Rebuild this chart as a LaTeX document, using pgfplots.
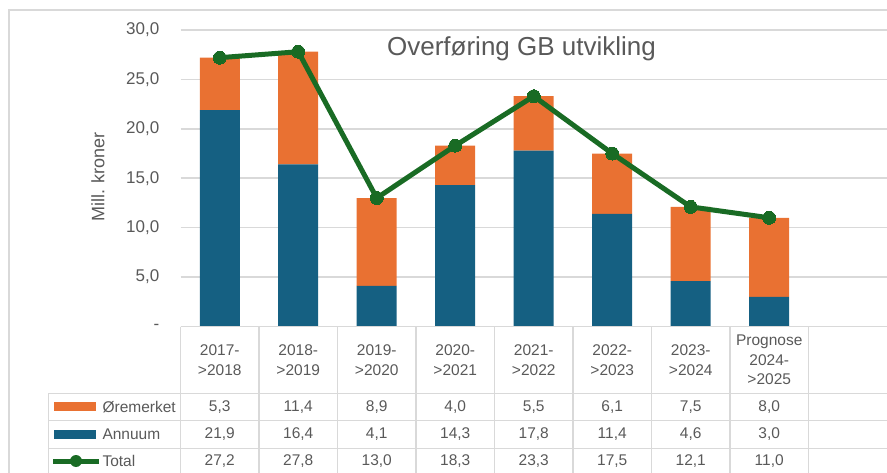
\documentclass[border=0pt]{standalone}
\usepackage{fontspec}
\setmainfont{Liberation Sans}
\usepackage{pgfplots}
\usepackage{pgfplotstable}
\pgfplotsset{compat=1.18}
\definecolor{cOrange}{HTML}{E97132}
\definecolor{cBlue}{HTML}{156082}
\definecolor{cGreen}{HTML}{196B24}
\definecolor{cGrid}{HTML}{D9D9D9}
\definecolor{cText}{HTML}{595959}

\pgfplotstableread{
x ore ann tot
0 5.3 21.9 27.2
1 11.4 16.4 27.8
2 8.9 4.1 13.0
3 4.0 14.3 18.3
4 5.5 17.8 23.3
5 6.1 11.4 17.5
6 7.5 4.6 12.1
7 8.0 3.0 11.0
}\data

\pgfplotsset{myaxis/.style={scale only axis, width=706.5pt, height=296.5pt,
  at={(180.5pt,145.5pt)}, anchor=south west, xmin=-0.5, xmax=8.5, ymin=0, ymax=30,
  clip=false}}

\begin{document}
\begin{tikzpicture}[x=1pt,y=1pt]
\useasboundingbox (0,0) rectangle (887,472);
\clip (0,0) rectangle (887,472);
\draw[cGrid, line width=1.5pt] (9,-5) -- (9,462) -- (895,462);

\begin{axis}[myaxis, ybar stacked, bar width=40pt,
  axis line style={draw=none}, major tick length=0pt,
  xtick=\empty, ytick={0,5,10,15,20,25,30},
  yticklabels={{-\hspace{7pt}},{5,0},{10,0},{15,0},{20,0},{25,0},{30,0}},
  yticklabel style={font=\fontsize{17}{20}\selectfont, text=cText, anchor=east, inner sep=0pt, xshift=-21pt},
  ymajorgrids, grid style={cGrid, line width=1.5pt}]
\addplot[fill=cBlue, draw=none] table[x=x,y=ann]{\data};
\addplot[fill=cOrange, draw=none] table[x=x,y=ore]{\data};
\end{axis}

\begin{axis}[myaxis, hide axis]
\addplot[cGreen, line width=5pt, mark=*, mark size=6.5pt, mark options={fill=cGreen, draw=cGreen, line width=0pt}] table[x=x,y=tot]{\data};
\end{axis}

% title and y label
\node[text=cText, font=\fontsize{26}{30}\selectfont] at (521.5,423) {Overføring GB utvikling};
\node[text=cText, font=\fontsize{18}{21}\selectfont, rotate=90] at (98,295) {Mill. kroner};

% data table grid
\begin{scope}[cGrid, line width=1.5pt]
\draw (180.5,145.5) -- (895,145.5);
\draw (48.3,78.7) -- (895,78.7);
\draw (48.3,51.3) -- (895,51.3);
\draw (48.3,23.7) -- (895,23.7);
\draw (48.3,78.7) -- (48.3,-5);
\foreach \k in {0,...,8} {\draw (180.5+78.5*\k,145.5) -- (180.5+78.5*\k,-5);}
\end{scope}

% header labels
\foreach \i/\lab in {0/{2017-\\>2018},1/{2018-\\>2019},2/{2019-\\>2020},3/{2020-\\>2021},4/{2021-\\>2022},5/{2022-\\>2023},6/{2023-\\>2024},7/{Prognose\\2024-\\>2025}} {
  \node[text=cText, align=center, font=\fontsize{15.5}{19.5}\selectfont] at (219.75+78.5*\i,112) {\lab};
}

% values
\pgfkeys{/pgf/number format/.cd, use comma, fixed, fixed zerofill, precision=1, assume math mode=true}
\foreach \i in {0,...,7} {
  \pgfplotstablegetelem{\i}{ore}\of\data \let\vo\pgfplotsretval
  \pgfplotstablegetelem{\i}{ann}\of\data \let\va\pgfplotsretval
  \pgfplotstablegetelem{\i}{tot}\of\data \let\vt\pgfplotsretval
  \node[text=cText, font=\fontsize{15.5}{18}\selectfont] at (219.75+78.5*\i,65) {\pgfmathprintnumber{\vo}};
  \node[text=cText, font=\fontsize{15.5}{18}\selectfont] at (219.75+78.5*\i,37.5) {\pgfmathprintnumber{\va}};
  \node[text=cText, font=\fontsize{15.5}{18}\selectfont] at (219.75+78.5*\i,11) {\pgfmathprintnumber{\vt}};
}

% legend keys
\fill[cOrange] (54.3,61) rectangle (95.7,69.7);
\fill[cBlue] (54.3,33) rectangle (95.7,41.7);
\draw[cGreen, line width=5pt] (53,11) -- (99,11);
\fill[cGreen] (76,11) circle (6);
\node[text=cText, anchor=west, font=\fontsize{15.5}{18}\selectfont] at (99,65) {Øremerket};
\node[text=cText, anchor=west, font=\fontsize{15.5}{18}\selectfont] at (99,37.5) {Annuum};
\node[text=cText, anchor=west, font=\fontsize{15.5}{18}\selectfont] at (99,11) {Total};
\end{tikzpicture}
\end{document}
